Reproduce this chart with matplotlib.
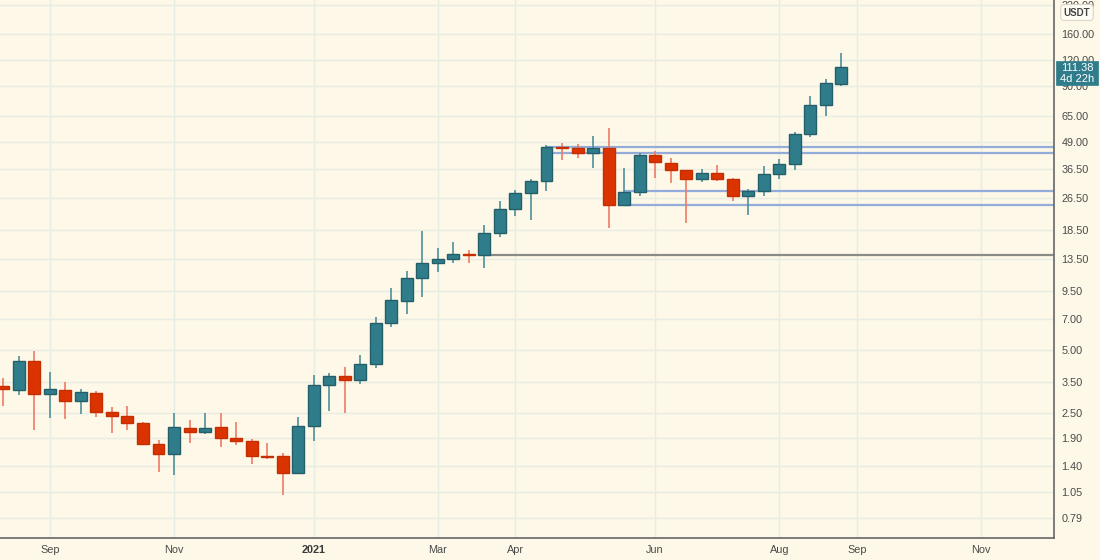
import matplotlib
matplotlib.use("Agg")
import matplotlib.pyplot as plt
import matplotlib.dates as mdates
from matplotlib.patches import Rectangle
import pandas as pd

# ---------------- data (weekly candles, USDT) ----------------
start_week = "2020-08-17"
opens = [3.35, 3.22, 4.40, 3.06, 3.22, 2.84, 3.12, 2.51, 2.42, 2.24,
         1.77, 1.59, 2.11, 2.02, 2.13, 1.90, 1.84, 1.56, 1.55, 1.29,
         2.15, 3.40, 3.74, 3.59, 4.28, 6.67, 8.52, 10.97, 12.9, 13.6,
         14.3, 14.2, 18.0, 23.5, 27.8, 31.9, 46.1, 45.6, 43.4, 45.9,
         24.5, 28.3, 42.5, 39.0, 35.8, 32.6, 34.6, 32.6, 27.0, 28.6,
         34.3, 38.3, 53.5, 73.0, 92.5]
highs = [3.67, 4.65, 4.92, 3.89, 3.52, 3.24, 3.19, 2.67, 2.69, 2.25,
         1.85, 2.50, 2.32, 2.50, 2.48, 2.25, 1.88, 1.80, 1.61, 2.38,
         3.78, 3.87, 4.13, 4.73, 7.16, 9.85, 11.8, 18.4, 15.3, 16.3,
         14.9, 19.7, 25.5, 28.8, 32.7, 47.2, 48.5, 47.6, 52.4, 57.3,
         36.6, 43.5, 44.2, 41.1, 36.0, 36.2, 38.0, 32.9, 29.3, 37.4,
         40.5, 54.5, 81.3, 97.3, 130.0]
lows = [2.70, 3.03, 2.07, 2.36, 2.34, 2.47, 2.38, 2.00, 2.08, 1.75,
        1.30, 1.26, 1.80, 1.99, 1.72, 1.76, 1.43, 1.51, 1.01, 1.28,
        1.84, 2.54, 2.50, 3.42, 4.07, 6.40, 7.4, 8.9, 11.7, 13.0,
        13.0, 12.2, 17.3, 21.6, 20.8, 28.6, 40.0, 41.0, 36.7, 19.0,
        24.5, 27.1, 33.1, 31.1, 20.1, 31.4, 31.7, 25.6, 22.0, 27.0,
        32.6, 35.8, 51.4, 65.0, 90.0]
closes = [3.23, 4.40, 3.06, 3.23, 2.84, 3.13, 2.51, 2.42, 2.24, 1.77,
          1.59, 2.13, 2.03, 2.11, 1.90, 1.84, 1.56, 1.54, 1.29, 2.15,
          3.40, 3.74, 3.59, 4.28, 6.72, 8.58, 10.97, 13.0, 13.6, 14.3,
          14.2, 18.0, 23.5, 27.8, 31.9, 46.1, 45.6, 43.4, 45.9, 24.5,
          28.3, 42.5, 39.3, 35.8, 32.6, 34.6, 32.6, 27.0, 28.6, 34.3,
          38.3, 53.5, 73.0, 93.5, 111.38]

# horizontal levels: price, index of the candle where the line starts, kind
level_prices = [46.1, 43.4, 28.5, 24.5, 14.2]
level_starts = [35, 35, 40, 40, 31]
level_kinds = ["blue", "blue", "blue", "blue", "gray"]

y_tick_values = [220, 160, 120, 90, 65, 49, 36.5, 26.5, 18.5, 13.5, 9.5, 7.0,
                 5.0, 3.5, 2.5, 1.9, 1.4, 1.05, 0.79]
x_tick_dates = ["2020-09-07", "2020-11-02", "2021-01-04", "2021-03-01",
                "2021-04-05", "2021-06-07", "2021-08-02", "2021-09-06",
                "2021-11-01"]
x_tick_labels = ["Sep", "Nov", "2021", "Mar", "Apr", "Jun", "Aug", "Sep", "Nov"]
last_price_label = "111.38"
countdown_label = "4d 22h"
currency = "USDT"

# ---------------- style ----------------
BG = "#fdf8e7"
GRID = "#e8ede3"
UP = "#2f7d8a"
UP_EDGE = "#245f69"
UP_WICK = "#4f8f99"
DN = "#db3300"
DN_EDGE = "#c52e00"
DN_WICK = "#ef7a66"
TXT = "#4a4a4a"
FONT = "Liberation Sans"

W, H = 1100, 560
AX_RIGHT = 1054
AX_BOTTOM = 22.3
fig = plt.figure(figsize=(W / 100, H / 100), dpi=100, facecolor=BG)
ax = fig.add_axes([0, AX_BOTTOM / H, AX_RIGHT / W, 1 - AX_BOTTOM / H])
ax.set_facecolor(BG)

dates = pd.date_range(start_week, periods=len(opens), freq="7D")
xd = mdates.date2num(dates.to_pydatetime())
body_w = 5.4
xmin = xd[0] - 1.49
xmax = xd[0] + 473.9

# grid
for v in y_tick_values:
    ax.axhline(v, color=GRID, lw=1, zorder=0)
for d in x_tick_dates:
    ax.axvline(mdates.date2num(pd.Timestamp(d).to_pydatetime()), color=GRID, lw=1, zorder=0)

# levels
for p, s, k in zip(level_prices, level_starts, level_kinds):
    col = "#93acd9" if k == "blue" else "#8a8a86"
    ax.hlines(p, xd[s], xmax, color=col, lw=1.6, zorder=1)

# candles
for x, o, h, l, c in zip(xd, opens, highs, lows, closes):
    up = c >= o
    wick = UP_WICK if up else DN_WICK
    face = UP if up else DN
    edge = UP_EDGE if up else DN_EDGE
    ax.vlines(x, l, h, color=wick, lw=1.2, zorder=2)
    lo, hi = min(o, c), max(o, c)
    ax.add_patch(Rectangle((x - body_w / 2, lo), body_w, hi - lo,
                           facecolor=face, edgecolor=edge, lw=1.0, zorder=3))

ax.set_yscale("log")
ax.set_ylim(0.634, 232.5)
ax.set_xlim(xmin, xmax)

ax.yaxis.tick_right()
ax.set_yticks(y_tick_values)
ax.set_yticklabels([f"{v:.2f}" for v in y_tick_values], fontfamily=FONT)
ax.yaxis.set_minor_locator(matplotlib.ticker.NullLocator())
ax.tick_params(axis="y", length=0, pad=5.5, labelsize=7.8, labelcolor=TXT)

ax.set_xticks([mdates.date2num(pd.Timestamp(d).to_pydatetime()) for d in x_tick_dates])
ax.set_xticklabels(x_tick_labels, fontfamily=FONT)
ax.tick_params(axis="x", length=0, pad=5, labelsize=7.8, labelcolor=TXT)
for t in ax.get_xticklabels():
    if t.get_text() == "2021":
        t.set_fontweight("bold")
        t.set_color("#3a3a3a")

for s in ["top", "left"]:
    ax.spines[s].set_visible(False)
for s in ["right", "bottom"]:
    ax.spines[s].set_color("#666666")
    ax.spines[s].set_linewidth(1.2)

# last price label (box placed at the last close's height)
fig.canvas.draw()
_, py = ax.transData.transform((xd[-1], closes[-1]))
ptop = H - py  # pixel from top
bx0, bx1 = AX_RIGHT + 2, 1098
by0, by1 = ptop - 6, ptop + 18
fig.patches.append(Rectangle((bx0 / W, 1 - by1 / H), (bx1 - bx0) / W, (by1 - by0) / H,
                             transform=fig.transFigure, facecolor=UP, edgecolor=UP,
                             lw=0.5, zorder=10))
fig.text((bx0 + bx1) / 2 / W, 1 - (ptop + 0.5) / H, last_price_label, ha="center", va="center",
         fontsize=8, color="white", fontfamily=FONT, zorder=11)
fig.text((bx0 + bx1) / 2 / W, 1 - (ptop + 11.5) / H, countdown_label, ha="center", va="center",
         fontsize=8, color="white", fontfamily=FONT, zorder=11)

# currency tag
fig.text(1077 / W, 1 - 12.5 / H, currency, ha="center", va="center", fontsize=7,
         color="#444444", fontweight="bold", fontfamily=FONT, zorder=11,
         bbox=dict(boxstyle="round,pad=0.3", fc="#fefcf3", ec="#d8d6cc", lw=0.8))

fig.savefig("out.png", dpi=100, facecolor=BG)
